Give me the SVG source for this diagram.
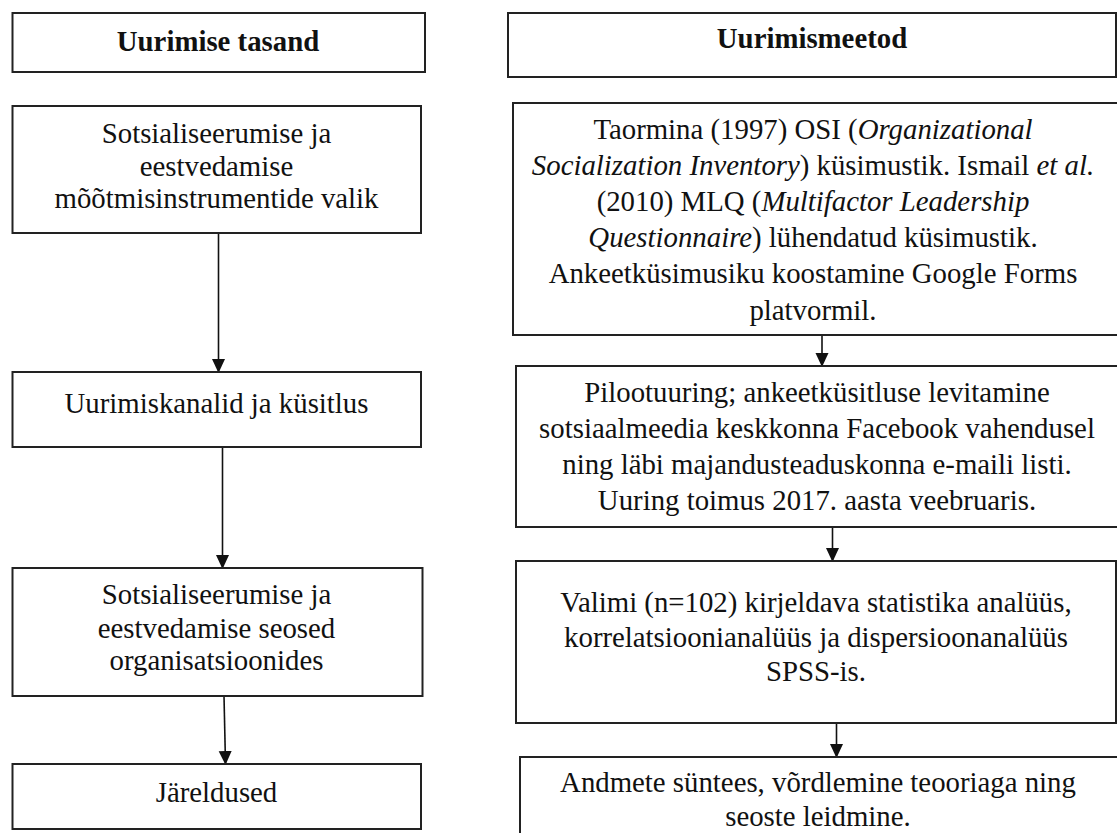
<svg xmlns="http://www.w3.org/2000/svg" width="1117" height="833" viewBox="0 0 1117 833">
<style>
.box{fill:#fff;stroke:#222;stroke-width:2}
.t{font-family:'Liberation Serif','DejaVu Serif',serif;font-size:28.8px;fill:#111;text-anchor:middle}
.b{font-weight:bold}
.i{font-style:italic}
.c{stroke:#111;stroke-width:1.6;fill:none;marker-end:url(#ah)}
</style>
<defs>
<marker id="ah" markerUnits="userSpaceOnUse" markerWidth="14" markerHeight="16" refX="13" refY="6.5" orient="auto">
<path d="M0,0 L14,6.5 L0,13 z" fill="#111"/>
</marker>
</defs>
<rect width="1117" height="833" fill="#fff"/>
<g id="connectors">
<path class="c" d="M218.5,233 L218.5,372"/>
<path class="c" d="M222.5,447 L222.5,568"/>
<path class="c" d="M224,696 L225.5,764"/>
<path class="c" d="M822,335 L822,366"/>
<path class="c" d="M832.5,527 L832.5,561"/>
<path class="c" d="M836.5,723 L836.5,757"/>
</g>
<g id="hdr-left">
<rect class="box" x="12.5" y="13" width="412.5" height="59"/>
<text class="t b" x="218" y="51" font-family="Liberation Serif, serif">Uurimise tasand</text>
</g>
<g id="hdr-right">
<rect class="box" x="508" y="13" width="608" height="64"/>
<text class="t b" x="812" y="48">Uurimismeetod</text>
</g>
<g id="left1">
<rect class="box" x="12.5" y="106" width="408.5" height="127"/>
<text class="t" x="216.5" y="143">Sotsialiseerumise ja</text>
<text class="t" x="216.5" y="176">eestvedamise</text>
<text class="t" x="216.5" y="208">mõõtmisinstrumentide valik</text>
</g>
<g id="left2">
<rect class="box" x="12.5" y="372" width="408.5" height="75"/>
<text class="t" x="216.5" y="413">Uurimiskanalid ja küsitlus</text>
</g>
<g id="left3">
<rect class="box" x="12.5" y="568" width="410" height="128"/>
<text class="t" x="216.5" y="604">Sotsialiseerumise ja</text>
<text class="t" x="216.5" y="638">eestvedamise seosed</text>
<text class="t" x="216.5" y="670">organisatsioonides</text>
</g>
<g id="left4">
<rect class="box" x="12.5" y="764" width="408.5" height="65"/>
<text class="t" x="216.5" y="802">Järeldused</text>
</g>
<g id="right1">
<rect class="box" x="513" y="103" width="610" height="232"/>
<text class="t" x="813" y="139">Taormina (1997) OSI (<tspan class="i">Organizational</tspan></text>
<text class="t" x="813" y="175"><tspan class="i">Socialization Inventory</tspan>) küsimustik. Ismail <tspan class="i">et al.</tspan></text>
<text class="t" x="813" y="211">(2010) MLQ (<tspan class="i">Multifactor Leadership</tspan></text>
<text class="t" x="813" y="247"><tspan class="i">Questionnaire</tspan>) lühendatud küsimustik.</text>
<text class="t" x="813" y="283">Ankeetküsimusiku koostamine Google Forms</text>
<text class="t" x="813" y="320">platvormil.</text>
</g>
<g id="right2">
<rect class="box" x="516" y="366" width="610" height="161"/>
<text class="t" x="817" y="402">Pilootuuring; ankeetküsitluse levitamine</text>
<text class="t" x="817" y="438">sotsiaalmeedia keskkonna Facebook vahendusel</text>
<text class="t" x="817" y="474">ning läbi majandusteaduskonna e-maili listi.</text>
<text class="t" x="817" y="510">Uuring toimus 2017. aasta veebruaris.</text>
</g>
<g id="right3">
<rect class="box" x="516" y="561" width="600" height="162"/>
<text class="t" x="816" y="612">Valimi (n=102) kirjeldava statistika analüüs,</text>
<text class="t" x="816" y="647">korrelatsioonianalüüs ja dispersioonanalüüs</text>
<text class="t" x="816" y="681">SPSS-is.</text>
</g>
<g id="right4">
<rect class="box" x="520" y="757" width="610" height="100"/>
<text class="t" x="818" y="792">Andmete süntees, võrdlemine teooriaga ning</text>
<text class="t" x="818" y="826">seoste leidmine.</text>
</g>
</svg>
